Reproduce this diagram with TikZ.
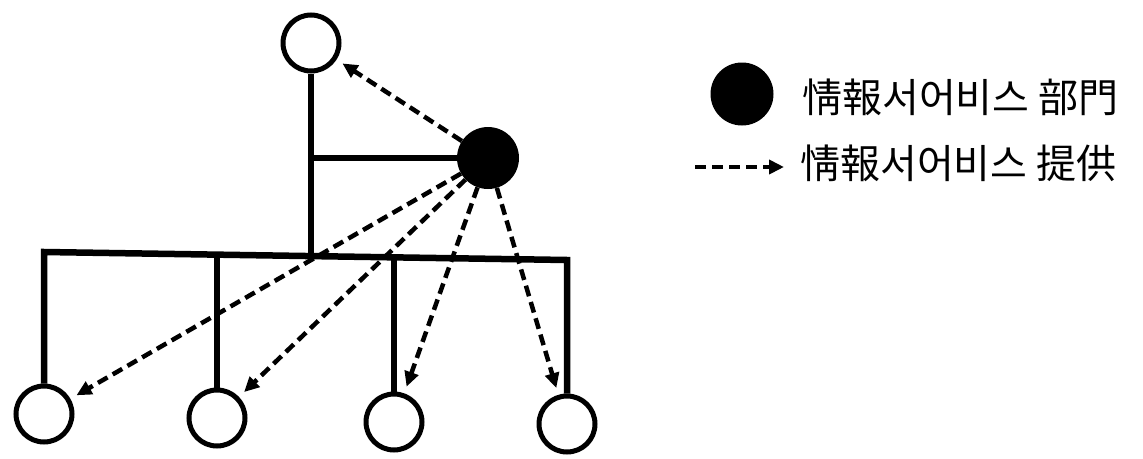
\documentclass[tikz,border=0pt]{standalone}
\usepackage{fontspec}
\newfontfamily\kr{Noto Sans CJK KR}
\usetikzlibrary{arrows.meta}
\begin{document}
\begin{tikzpicture}[x=1pt,y=-1pt,
  unit/.style={circle,draw,line width=5pt,minimum size=56pt,inner sep=0pt},
  hubnode/.style={circle,fill=black,minimum size=62pt,inner sep=0pt},
  solidline/.style={line width=6.5pt,line join=miter},
  service/.style={line width=4.5pt,dash pattern=on 11pt off 6pt,-{Triangle[length=15pt,width=14pt]},shorten >=7pt},
  legendtext/.style={anchor=west,inner sep=0pt,font=\kr\fontsize{40}{42}\selectfont}]
\useasboundingbox (0,0) rectangle (1143,458);
% nodes
\node[unit] (top) at (311,43) {};
\node[hubnode] (hub) at (488,158) {};
\node[unit] (b1) at (44,414) {};
\node[unit] (b2) at (217,418) {};
\node[unit] (b3) at (394,422) {};
\node[unit] (b4) at (567,424) {};
% junctions on the bus
\coordinate (j0) at (311,257);
\coordinate (busL) at (44,252);
\coordinate (busR) at (567,260);
\coordinate (j2) at (217,255);
\coordinate (j3) at (394,257);
% solid organisation lines
\draw[solidline] (top.south) -- (j0);
\draw[solidline] (hub.west) -- (hub.west -| top);
\draw[solidline] (b1.north) -- (busL) -- (busR) -- (b4.north);
\draw[solidline] (j2) -- (b2.north);
\draw[solidline] (j3) -- (b3.north);
% service arrows
\draw[service] (hub) -- (top);
\draw[service] (hub) -- (b1);
\draw[service] (hub) -- (b2);
\draw[service] (hub) -- (b3);
\draw[service] (hub) -- (b4);
% legend
\node[hubnode,minimum size=63pt] (legdot) at (742,94) {};
\node[legendtext] (legA) at (802,97) {情報서어비스 部門};
\coordinate (la) at (695,167);
\coordinate (lb) at (784,167);
\draw[service,shorten >=0pt] (la) -- (lb);
\node[legendtext] (legB) at (800,163) {情報서어비스 提供};
\end{tikzpicture}
\end{document}
